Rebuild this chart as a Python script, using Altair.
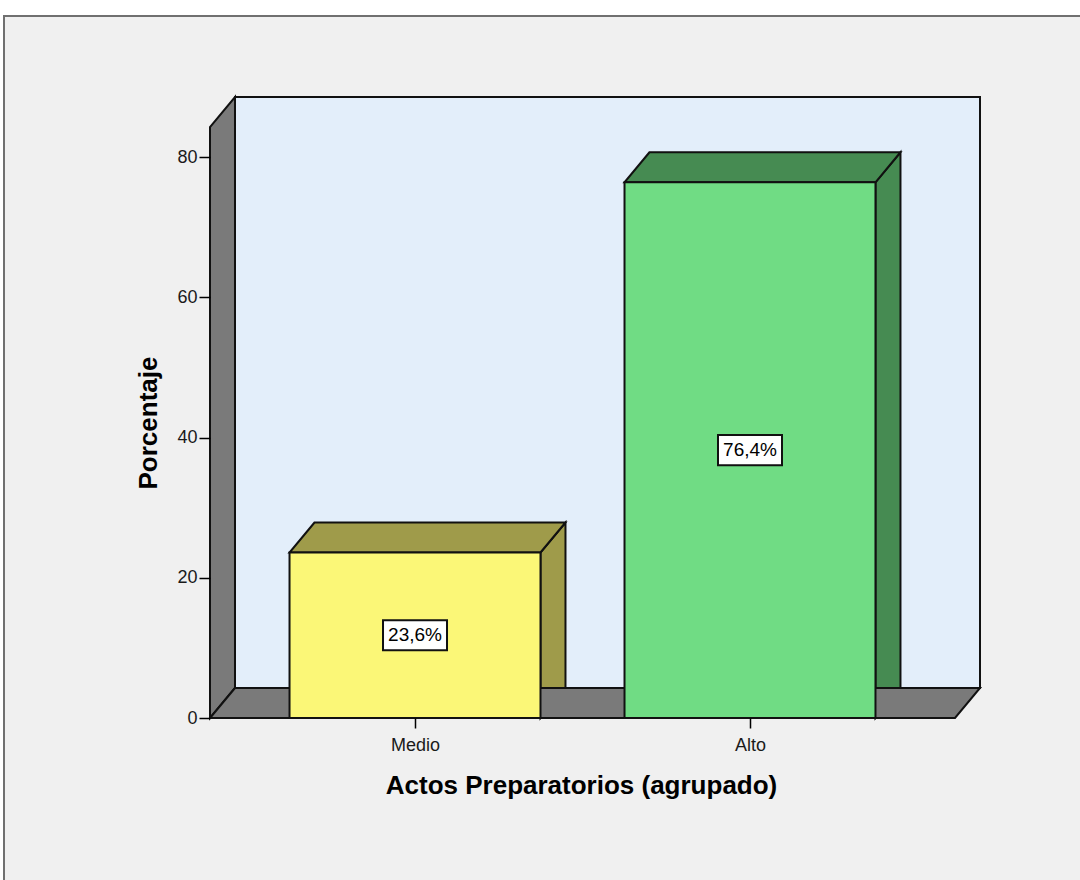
import json
import altair as alt
import pandas as pd

# ---- data ----
categories = ["Medio", "Alto"]
percentages = [23.6, 76.4]
pct_labels = ["23,6%", "76,4%"]
y_ticks = [0, 20, 40, 60, 80]
front_colors = ["#fbf777", "#70dc84"]
shade_colors = ["#9f9b4a", "#468b52"]

# ---- geometry of the 3D box (in data units) ----
X_MIN, X_MAX = 0.388, 2.612      # front plane extent
DX, DY = 0.0746, 4.28            # depth offset
Y_TOP = 84.28                    # front top of left wall
HW = 0.3746                      # half bar width
XS = alt.Scale(domain=[X_MIN, X_MAX + DX], nice=False, zero=False)
YS = alt.Scale(domain=[0, Y_TOP + DY], nice=False, zero=False)
positions = [i + 1 for i in range(len(categories))]

x_axis = alt.Axis(
    values=positions,
    labelExpr=f"{json.dumps(categories)}[datum.value - 1]",
    title="Actos Preparatorios (agrupado)",
    domain=False, grid=False, tickSize=10, tickColor="black", tickWidth=1.5,
    labelPadding=8, labelFont="Liberation Sans", labelFontSize=18, labelColor="#1a1a1a",
    titleFont="Liberation Sans", titleFontSize=26, titleFontWeight="bold", titleColor="black",
    titleX=371, titleY=75, titleBaseline="alphabetic", titleAlign="center", zindex=1,
)
y_axis = alt.Axis(
    values=y_ticks, title="Porcentaje",
    domain=False, grid=False, tickSize=11, tickColor="black", tickWidth=1.5,
    labelPadding=2, labelFont="Liberation Sans", labelFontSize=18, labelColor="#1a1a1a",
    titleFont="Liberation Sans", titleFontSize=26, titleFontWeight="bold", titleColor="black",
    titleX=-54, titleY=325.5, titleAngle=270, titleBaseline="alphabetic", titleAlign="center", zindex=1,
)

def X(f="x"):
    return alt.X(f"{f}:Q", scale=XS, axis=x_axis)

def Y(f="y"):
    return alt.Y(f"{f}:Q", scale=YS, axis=y_axis, stack=None)

# back wall
back = pd.DataFrame({"x": [X_MIN + DX], "x2": [X_MAX + DX], "y": [DY], "y2": [Y_TOP + DY]})

# vertical parallelograms: left wall and bar sides
vrows = [
    {"poly": "wall", "x": X_MIN, "y": 0, "y2": Y_TOP, "color": "#7a7a7a"},
    {"poly": "wall", "x": X_MIN + DX, "y": DY, "y2": Y_TOP + DY, "color": "#7a7a7a"},
]
# horizontal parallelograms: floor and bar tops
hrows = [
    {"poly": "floor", "y": 0, "x": X_MIN, "x2": X_MAX, "color": "#7a7a7a"},
    {"poly": "floor", "y": DY, "x": X_MIN + DX, "x2": X_MAX + DX, "color": "#7a7a7a"},
]
fronts = []
labels = []
for c, v, lab, fc, sc, name in zip(positions, percentages, pct_labels, front_colors, shade_colors, categories):
    vrows.append({"poly": name, "x": c + HW, "y": 0, "y2": v, "color": sc})
    vrows.append({"poly": name, "x": c + HW + DX, "y": DY, "y2": v + DY, "color": sc})
    hrows.append({"poly": name, "y": v, "x": c - HW, "x2": c + HW, "color": sc})
    hrows.append({"poly": name, "y": v + DY, "x": c - HW + DX, "x2": c + HW + DX, "color": sc})
    fronts.append({"x": c - HW, "x2": c + HW, "y": 0, "y2": v, "color": fc})
    labels.append({"x": c, "y": v / 2, "label": lab})

vdf = pd.DataFrame(vrows)
hdf = pd.DataFrame(hrows)
fdf = pd.DataFrame(fronts)
ldf = pd.DataFrame(labels)

STROKE = dict(stroke="#111111", strokeWidth=2)

frame = alt.Chart(pd.DataFrame({"a": [0]})).mark_rect(
    fill="#f0f0f0", stroke="#707070", strokeWidth=2
).encode(x=alt.value(-206), x2=alt.value(880), y=alt.value(-81), y2=alt.value(800))

back_l = alt.Chart(back).mark_rect(fill="#e3eefa", **STROKE).encode(
    x=X(), x2="x2:Q", y=Y(), y2="y2:Q")

vert = alt.Chart(vdf).mark_area(interpolate="linear", opacity=1, **STROKE).encode(
    x=X(), y=Y(), y2="y2:Q",
    color=alt.Color("color:N", scale=None), detail="poly:N")

horiz = alt.Chart(hdf).mark_area(orient="horizontal", interpolate="linear", opacity=1, **STROKE).encode(
    y=Y(), x=X(), x2="x2:Q",
    color=alt.Color("color:N", scale=None), detail="poly:N")

front_l = alt.Chart(fdf).mark_rect(opacity=1, **STROKE).encode(
    x=X(), x2="x2:Q", y=Y(), y2="y2:Q",
    color=alt.Color("color:N", scale=None))

boxes = alt.Chart(ldf).mark_point(
    shape="M-1,-0.47H1V0.47H-1Z", size=4096, filled=True, fill="white",
    stroke="#111111", strokeWidth=2, opacity=1
).encode(x=X(), y=Y())

texts = alt.Chart(ldf).mark_text(
    font="Liberation Sans", fontSize=19, align="center", baseline="middle", color="black"
).encode(x=X(), y=Y(), text="label:N")

chart = alt.layer(frame, back_l, vert, horiz, front_l, boxes, texts).properties(
    width=770, height=621,
    autosize=alt.AutoSizeParams(type="none"),
    padding={"left": 210, "top": 97, "right": 100, "bottom": 162},
    background="white",
).configure_view(strokeWidth=0)

chart.save("out.html", embed_options={"renderer": "svg", "actions": False})
